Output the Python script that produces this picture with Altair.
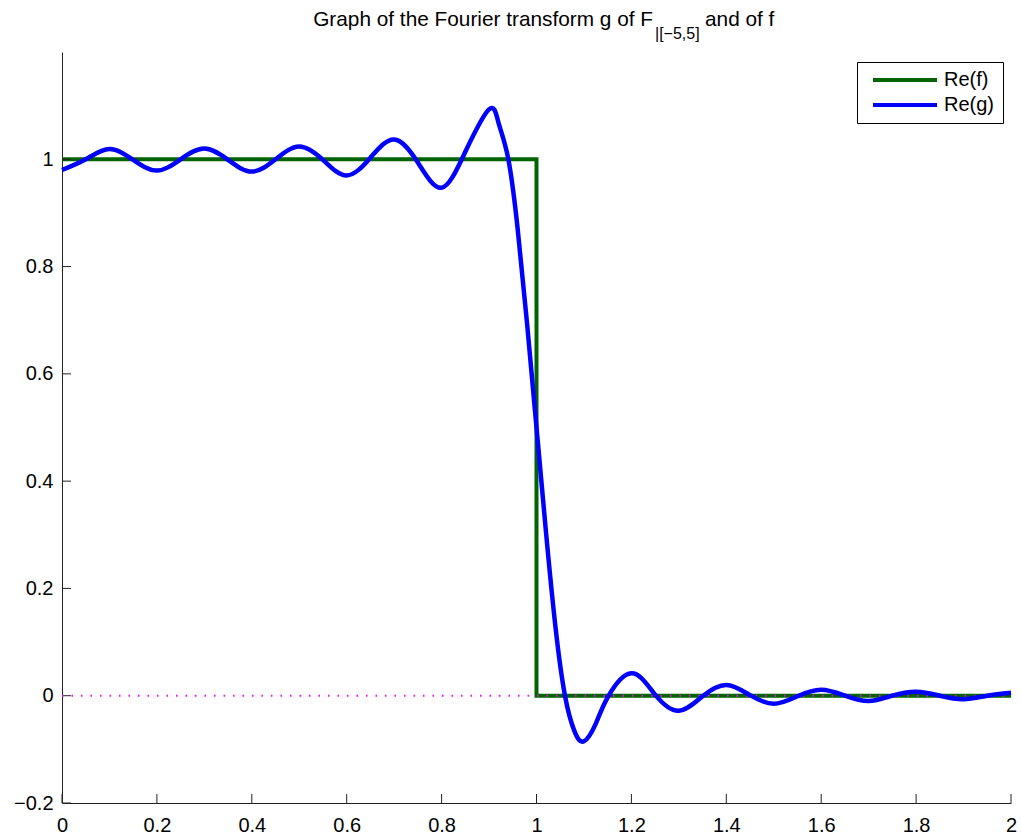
import altair as alt
import pandas as pd

# f: indicator of [0, 1] drawn on [0, 2]
f_x = [0.0, 1.0, 1.0, 2.0]
f_y = [1.0, 1.0, 0.0, 0.0]

# Real part of g sampled along the curve
g_x = [0.00, 0.05, 0.10, 0.15, 0.20, 0.25, 0.30, 0.35, 0.40, 0.45,
       0.50, 0.55, 0.60, 0.65, 0.70, 0.75, 0.80, 0.85, 0.90, 0.92,
       0.94, 0.96, 0.98, 1.00, 1.02, 1.04, 1.06, 1.08, 1.10, 1.125,
       1.15, 1.20, 1.25, 1.30, 1.35, 1.40, 1.45, 1.50, 1.55, 1.60,
       1.65, 1.70, 1.75, 1.80, 1.85, 1.90, 1.95, 2.00]
g_y = [0.980, 1.000, 1.019, 0.999, 0.979, 1.000, 1.020, 0.999, 0.977, 1.000,
       1.024, 0.999, 0.970, 1.003, 1.037, 0.994, 0.947, 1.014, 1.093, 1.068,
       1.003, 0.873, 0.695, 0.500, 0.305, 0.128, 0.000, -0.066, -0.085, -0.052,
       -0.003, 0.042, 0.002, -0.028, -0.001, 0.020, 0.001, -0.015, -0.001, 0.011,
       0.000, -0.010, 0.000, 0.0075, 0.000, -0.0065, 0.000, 0.0056]

series_names = ["Re(f)", "Re(g)"]
series_colors = ["#006400", "#0000ff"]

x_ticks = [0, 0.2, 0.4, 0.6, 0.8, 1.0, 1.2, 1.4, 1.6, 1.8, 2.0]
y_ticks = [-0.2, 0, 0.2, 0.4, 0.6, 0.8, 1.0]

title_main = "Graph of the Fourier transform g of F"
title_sub = "|[\u22125,5]"
title_tail = "and of f"

W, H = 949, 751
TICK_LEN = 9
FONT = "Liberation Sans"
AXIS_COLOR = "#222222"

df_f = pd.DataFrame({"x": f_x, "y": f_y, "i": range(len(f_x)), "series": series_names[0]})
df_g = pd.DataFrame({"x": g_x, "y": g_y, "i": range(len(g_x)), "series": series_names[1]})
df_zero = pd.DataFrame({"x": [0.0], "x2": [2.0], "y": [0.0]})
df_xt = pd.DataFrame({"v": x_ticks})
df_yt = pd.DataFrame({"v": y_ticks})

x_scale = alt.Scale(domain=[0, 2], nice=False, zero=False)
y_scale = alt.Scale(domain=[-0.2, 1.2], nice=False, zero=False)
color_scale = alt.Scale(domain=series_names, range=series_colors)

legend = alt.Legend(
    title=None, orient="none", legendX=795, legendY=10,
    symbolType="stroke", symbolSize=4096, symbolStrokeWidth=4,
    labelFontSize=20, labelFont=FONT, labelColor="black",
    strokeColor="black", fillColor="white", padding=8,
    rowPadding=5, labelOffset=5, symbolOffset=6, clipHeight=20,
)

# labelled axes along the bottom and left edges
x_axis = alt.Axis(values=x_ticks, format="~g", ticks=False, tickSize=0, grid=False,
                  labelPadding=12, labelFlush=False, labelOverlap=False,
                  labelFont=FONT, labelFontSize=20, labelColor="black",
                  domainColor=AXIS_COLOR, title=None)
y_axis = alt.Axis(values=y_ticks, format="~g", ticks=False, tickSize=0, grid=False,
                  labelPadding=9, labelFlush=False, labelOverlap=False,
                  labelFont=FONT, labelFontSize=20, labelColor="black",
                  domainColor=AXIS_COLOR, title=None)

f_line = alt.Chart(df_f).mark_line(strokeWidth=4, strokeJoin="miter", strokeCap="butt").encode(
    x=alt.X("x:Q", scale=x_scale, axis=x_axis),
    y=alt.Y("y:Q", scale=y_scale, axis=y_axis),
    order=alt.Order("i:Q"),
    color=alt.Color("series:N", scale=color_scale, legend=legend),
)

# inward tick marks on the bottom and left edges
x_tick_marks = alt.Chart(df_xt).mark_rule(color=AXIS_COLOR, strokeWidth=1).encode(
    x=alt.X("v:Q", scale=x_scale),
    y=alt.value(H), y2=alt.value(H - TICK_LEN),
)
y_tick_marks = alt.Chart(df_yt).mark_rule(color=AXIS_COLOR, strokeWidth=1).encode(
    y=alt.Y("v:Q", scale=y_scale),
    x=alt.value(0), x2=alt.value(TICK_LEN),
)

zero_line = alt.Chart(df_zero).mark_rule(color="#ff00ff", strokeWidth=2, strokeDash=[1.5, 8]).encode(
    x=alt.X("x:Q", scale=x_scale),
    x2="x2:Q",
    y=alt.Y("y:Q", scale=y_scale),
)

g_line = alt.Chart(df_g).mark_line(strokeWidth=4.5, interpolate="natural").encode(
    x=alt.X("x:Q", scale=x_scale),
    y=alt.Y("y:Q", scale=y_scale),
    order=alt.Order("i:Q"),
    color=alt.Color("series:N", scale=color_scale, legend=legend),
)

def title_piece(text, x, y, size, align):
    return alt.Chart(pd.DataFrame({"t": [text]})).mark_text(
        align=align, baseline="alphabetic", fontSize=size, font=FONT, color="black"
    ).encode(x=alt.value(x), y=alt.value(y), text="t:N")

t1 = title_piece(title_main, 591, -26, 20.8, "right")
t2 = title_piece(title_sub, 593, -13, 16, "left")
t3 = title_piece(title_tail, 643, -26, 20.8, "left")

chart = alt.layer(
    f_line, x_tick_marks, y_tick_marks, zero_line, g_line, t1, t2, t3
).properties(
    width=W, height=H,
    padding={"left": 62, "top": 52, "right": 10, "bottom": 32},
    autosize=alt.AutoSizeParams(type="none"),
    background="white",
).configure_view(stroke=None)

chart.save("out.html", embed_options={"renderer": "svg", "actions": False})
